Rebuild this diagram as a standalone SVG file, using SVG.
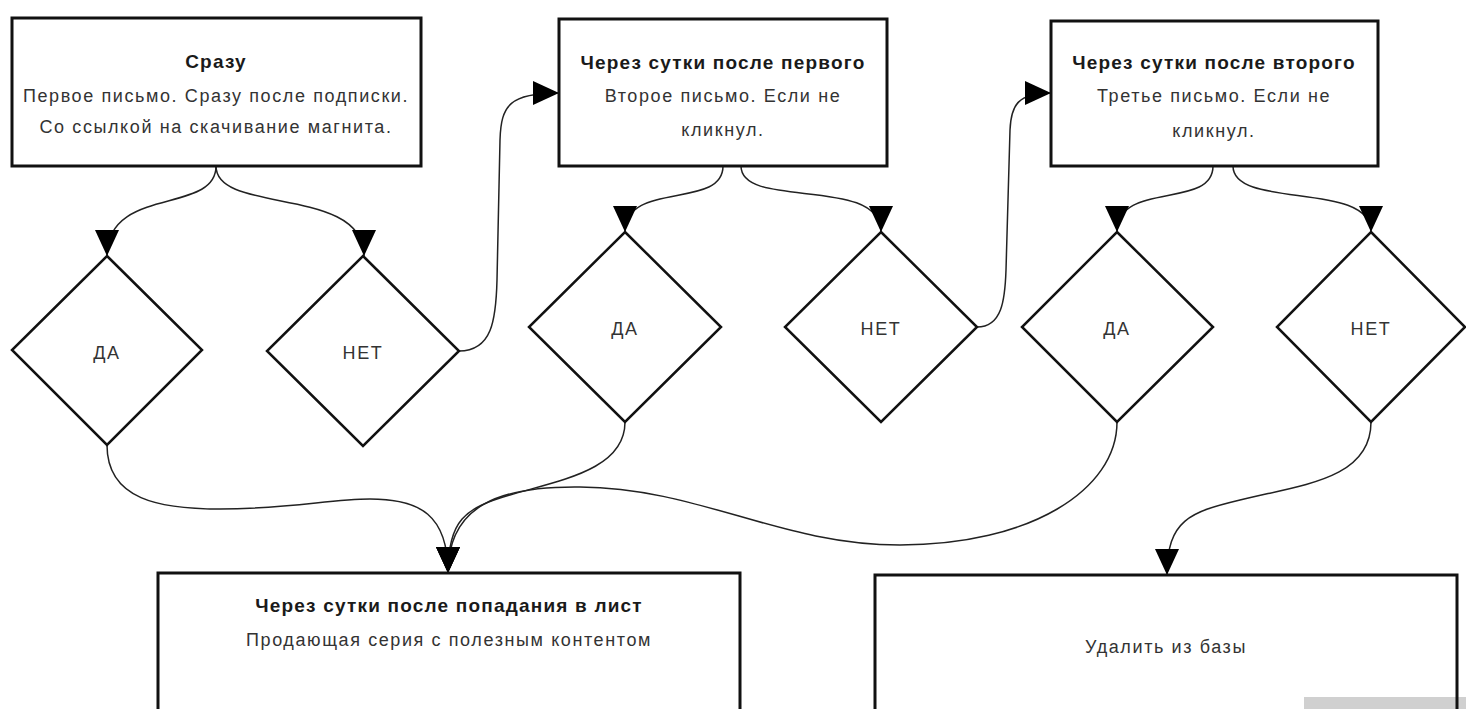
<svg xmlns="http://www.w3.org/2000/svg" width="1466" height="709" viewBox="0 0 1466 709">
<style>
.box{fill:#fff;stroke:#111;stroke-width:3}
.dia{fill:#fff;stroke:#111;stroke-width:2.5}
.con{fill:none;stroke:#222;stroke-width:1.5}
.t{font-family:"Liberation Sans",Arial,sans-serif;font-size:18px;fill:#333;text-anchor:middle;letter-spacing:1.6px}
.b{font-weight:bold;font-size:19px;fill:#1a1a1a;letter-spacing:1.2px}
</style>
<defs>
<marker id="ah" markerUnits="userSpaceOnUse" markerWidth="26" markerHeight="24" refX="26" refY="12" orient="auto" viewBox="0 0 26 24">
<path d="M0,0 L26,12 L0,24 Z" fill="#000"/>
</marker>
</defs>
<rect width="1466" height="709" fill="#fff"/>

<g id="connectors">
<path class="con" marker-end="url(#ah)" d="M216,166 C216,215 107,185 107,256"/>
<path class="con" marker-end="url(#ah)" d="M216,166 C216,215 364,185 364,256"/>
<path class="con" marker-end="url(#ah)" d="M459,351 C492,351 496,320 497,280 L500,140 C501,105 510,93 559,93"/>
<path class="con" marker-end="url(#ah)" d="M723,166 C723,210 625,180 625,232"/>
<path class="con" marker-end="url(#ah)" d="M741,166 C741,210 881,175 881,232"/>
<path class="con" marker-end="url(#ah)" d="M977,327 C1002,327 1005,300 1006,270 L1010,130 C1011,105 1018,93 1051,93"/>
<path class="con" marker-end="url(#ah)" d="M1213,166 C1213,210 1117,180 1117,232"/>
<path class="con" marker-end="url(#ah)" d="M1233,166 C1233,210 1371,180 1371,232"/>
<path class="con" marker-end="url(#ah)" d="M107,445 C107,500 160,509 220,509 C290,509 330,499 370,499 C420,499 448,515 448,573"/>
<path class="con" marker-end="url(#ah)" d="M625,422 C625,470 560,480 510,495 C465,508 448,520 448,573"/>
<path class="con" marker-end="url(#ah)" d="M1117,422 C1117,490 1030,545 900,545 C780,545 700,488 580,487 C500,486 448,505 448,573"/>
<path class="con" marker-end="url(#ah)" d="M1371,422 C1371,480 1300,485 1240,500 C1190,512 1167,520 1167,575"/>
</g>

<g id="box1">
<rect class="box" x="12" y="18" width="409" height="148"/>
<text class="t b" x="216" y="68">Сразу</text>
<text class="t" x="216" y="102">Первое письмо. Сразу после подписки.</text>
<text class="t" x="216" y="133">Со ссылкой на скачивание магнита.</text>
</g>
<g id="box2">
<rect class="box" x="559" y="19" width="328" height="147"/>
<text class="t b" x="723" y="69">Через сутки после первого</text>
<text class="t" x="723" y="102">Второе письмо. Если не</text>
<text class="t" x="723" y="136">кликнул.</text>
</g>
<g id="box3">
<rect class="box" x="1051" y="21" width="327" height="145"/>
<text class="t b" x="1214" y="69">Через сутки после второго</text>
<text class="t" x="1214" y="102">Третье письмо. Если не</text>
<text class="t" x="1214" y="137">кликнул.</text>
</g>

<g id="yes1">
<polygon class="dia" points="107,256 202,350 107,445 12,350"/>
<text class="t" x="107" y="359">ДА</text>
</g>
<g id="no1">
<polygon class="dia" points="363,256 459,351 363,446 267,351"/>
<text class="t" x="363" y="359">НЕТ</text>
</g>
<g id="yes2">
<polygon class="dia" points="625,232 721,327 625,422 529,327"/>
<text class="t" x="625" y="335">ДА</text>
</g>
<g id="no2">
<polygon class="dia" points="881,232 977,327 881,422 785,327"/>
<text class="t" x="881" y="335">НЕТ</text>
</g>
<g id="yes3">
<polygon class="dia" points="1117,232 1213,327 1117,422 1022,327"/>
<text class="t" x="1117" y="335">ДА</text>
</g>
<g id="no3">
<polygon class="dia" points="1371,232 1465,327 1371,422 1277,327"/>
<text class="t" x="1371" y="335">НЕТ</text>
</g>

<g id="series">
<rect class="box" x="158" y="573" width="582" height="160"/>
<text class="t b" x="449" y="612">Через сутки после попадания в лист</text>
<text class="t" x="449" y="646">Продающая серия с полезным контентом</text>
</g>
<g id="delete">
<rect class="box" x="875" y="575" width="582" height="160"/>
<text class="t" x="1166" y="653">Удалить из базы</text>
</g>
<rect x="1304" y="697" width="162" height="12" fill="#d0d0d0"/>
<line x1="1457" y1="697" x2="1457" y2="709" stroke="#111" stroke-width="3"/>
</svg>
